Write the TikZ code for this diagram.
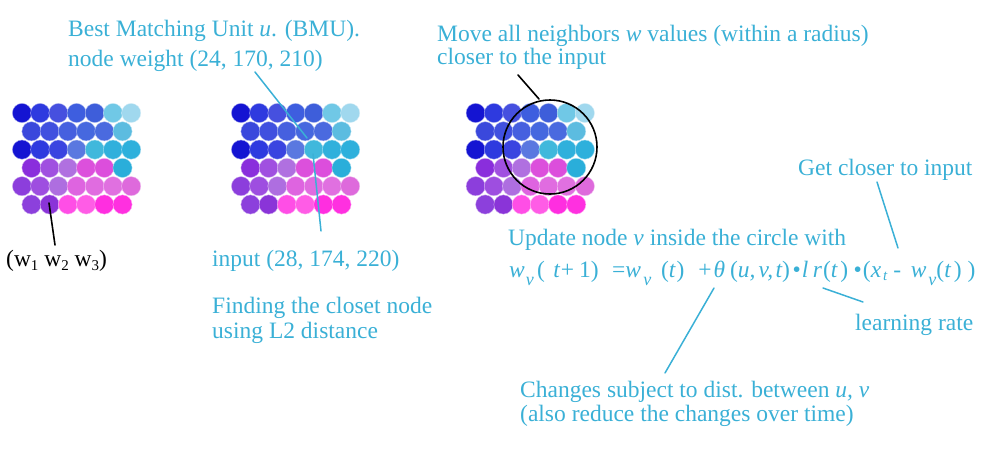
\documentclass[tikz,border=0pt]{standalone}
\usepackage{fontspec}
\setmainfont{Liberation Serif}
\usetikzlibrary{calc}
\definecolor{somblue}{RGB}{58,176,214}

% lowered subscript as the drawing sets it
\newcommand{\lowsub}[3][8pt]{\raisebox{-#1}{\fontsize{#2}{#2}\selectfont #3}}

% one SOM lattice: 6 rows, alternating 7 and 6 nodes
\newcommand{\somgrid}{%
	\foreach [count=\ri] \rowcols in {%
		{1414D2,2E3ADF,4650DF,3E5EDF,3E5EDA,70C8E6,A0D8EE},%
		{3A48DC,4050DF,4660DF,4668DF,4A6ADF,5CBCE0},%
		{1414D2,2E3ADF,3A44E0,5A78E0,40B8DC,30B0DC,2EB0DC},%
		{8A2EDC,A050E0,B070E0,DC50DC,DC4EDC,2AAEDA},%
		{8C3EDC,9E4EE0,AE6EE0,DE64E0,E06CE0,E070E0,DE6ADC},%
		{8C40DC,8A34D8,FF4EE6,FF5CE6,FF2EE0,FF30E0}}{%
		\foreach [count=\ci] \hex in \rowcols {%
			\edef\setcell{\noexpand\definecolor{cellc}{HTML}{\hex}}\setcell
			\filldraw[fill=cellc, draw=white!60!cellc, line width=0.4pt]
			({(\ci-1)*18.2 + mod(\ri+1,2)*9.5}, {(\ri-1)*18.3}) circle (9.6pt);
		}}}

\begin{document}
\begin{tikzpicture}[x=1pt, y=-1pt, line cap=round, line join=round,
	lbl/.style={anchor=base west, inner sep=0pt, text=somblue,
		font=\fontsize{23.5}{26}\selectfont},
	ptr/.style={somblue, line width=1.5pt},
	blk/.style={black, line width=1.6pt}]

\useasboundingbox (0,0) rectangle (982,450);

%========================
% Left: plain lattice
%========================
\begin{scope}[shift={(22,113)}]
	\somgrid
\end{scope}
\node[lbl, text=black] (wvec) at (6,266)
	{(w\lowsub[4pt]{15}{1} w\lowsub[4pt]{15}{2} w\lowsub[4pt]{15}{3})};
\coordinate (cell) at (49,203);
\coordinate (wtip) at (55,245);
\draw[blk] (cell) -- (wtip);

%========================
% Middle: find the BMU
%========================
\begin{scope}[shift={(241,113)}]
	\somgrid
\end{scope}
\node[lbl] (bmu) at (68,36) {Best Matching Unit \textit{u}. (BMU).};
\node[lbl] (bmuw) at (68,66) {node weight (24, 170, 210)};
\node[lbl] (input) at (212,266) {input (28, 174, 220)};
\node[lbl] (find1) at (212,313) {Finding the closet node};
\node[lbl] (find2) at (212,338) {using L2 distance};
% pointers to the BMU
\coordinate (bmutop) at (307,138);
\coordinate (bmumid) at (313,154);
\coordinate (bmuw-tip) at (255,72);
\coordinate (input-tip) at (321,231);
\draw[ptr] (bmuw-tip) -- (bmutop);
\draw[ptr] (bmumid) -- (input-tip);

%========================
% Right: update neighbours
%========================
\begin{scope}[shift={(475.7,113)}]
	\somgrid
\end{scope}
\node[draw, blk, circle, minimum size=94pt, inner sep=0pt] (radius) at (550,147) {};
\node[lbl] (move1) at (437,41) {Move all neighbors \textit{w} values (within a radius)};
\node[lbl] (move2) at (437,64) {closer to the input};
\coordinate (move-tip) at (518,75);
\coordinate (radius-top) at (539,99);
\draw[blk] (move-tip) -- (radius-top);

% update rule
\node[lbl] (update) at (508,245) {Update node \textit{v} inside the circle with};
\node[lbl] (rule) at (509,277) {\itshape
	w\hspace{1pt}\lowsub{18}{v}\hspace{3.2pt}\upshape(\hspace{8.5pt}\itshape t\upshape\hspace{1pt}+\hspace{5pt}1)%
	\hspace{13.3pt}=\itshape w\hspace{2.5pt}\lowsub{18}{v}\upshape\hspace{9.7pt}(\itshape t\upshape\hspace{1pt})%
	\hspace{14pt}+\hspace{2pt}\itshape θ\upshape\hspace{5pt}(\itshape u,\hspace{3pt}v,\hspace{2.5pt}t\upshape)%
	\hspace{2.6pt}•\hspace{1pt}\itshape l\hspace{4.5pt}r\upshape\hspace{1pt}(\itshape t\upshape\hspace{3pt})%
	\hspace{5.5pt}•\hspace{1pt}(\itshape x\hspace{2pt}\lowsub[3pt]{15}{t}\upshape\hspace{6pt}-\hspace{9.6pt}%
	\itshape w\hspace{2pt}\lowsub{18}{v}\upshape(\itshape t\upshape\hspace{3pt})\hspace{6pt})};
\node[lbl] (closer) at (798,175) {Get closer to input};
\node[lbl] (lrate) at (855,330) {learning rate};
\node[lbl] (dist1) at (520,397) {Changes subject to dist. between \textit{u, v}};
\node[lbl] (dist2) at (520,421) {(also reduce the changes over time)};

\coordinate (closer-tip) at (877,182);
\coordinate (xt) at (898,248);
\coordinate (lr) at (823,288);
\coordinate (lrate-tip) at (863,302);
\coordinate (theta) at (714,288);
\coordinate (dist-tip) at (665,373);
\draw[ptr] (closer-tip) -- (xt);
\draw[ptr] (lr) -- (lrate-tip);
\draw[ptr] (theta) -- (dist-tip);

\end{tikzpicture}
\end{document}
